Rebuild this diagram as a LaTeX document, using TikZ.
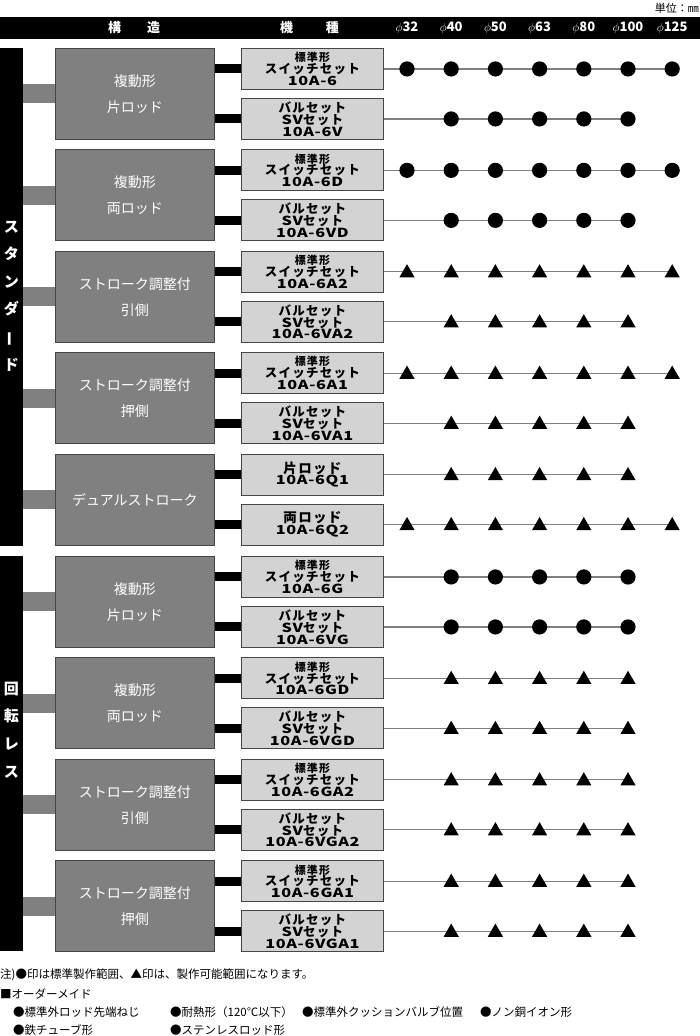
\documentclass[tikz,border=0pt]{standalone}
\usepackage{fontspec}
\setmainfont{Noto Sans CJK JP}
\newfontfamily\wide[FakeStretch=1.3,LetterSpace=5]{Noto Sans CJK JP}
\newfontfamily\kanasp[LetterSpace=10]{Noto Sans CJK JP}
\definecolor{bgray}{RGB}{128,128,128}
\definecolor{lgray}{RGB}{211,211,211}
\definecolor{edge}{RGB}{70,70,70}
\pgfdeclarelayer{bg}
\pgfsetlayers{bg,main}
\newcommand\tightln{\setlength{\lineskiplimit}{-20pt}}
\tikzset{
 bigbox/.style={draw=edge, line width=0.9pt, fill=bgray, minimum width=159pt, minimum height=91pt, inner sep=0pt, text=white, align=center, font=\fontsize{14}{26}\selectfont, anchor=north west},
 smallbox/.style={draw=edge, line width=0.9pt, fill=lgray, minimum width=142pt, minimum height=41pt, inner sep=0pt, align=center, font=\kanasp\fontsize{12.5}{11.8}\selectfont\bfseries\tightln, anchor=north west},
 sidebar/.style={fill=black, minimum width=23pt, inner sep=0pt, anchor=north west},
 sidetxt/.style={text=white, align=center, font=\fontsize{15}{27.6}\selectfont\bfseries\tightln, inner sep=0pt},
 gconn/.style={draw=bgray, line width=19pt},
 bconn/.style={draw=black, line width=9pt},
 mline/.style={draw=bgray, line width=1.3pt},
 markc/.pic={\fill[black] (0,0) circle (7.6pt);},
 markt/.pic={\fill[black] (-7.6,5.6) -- (7.6,5.6) -- (0,-7.6) -- cycle;},
 hdrtxt/.style={text=white, font=\fontsize{13}{13}\selectfont\bfseries, inner sep=0pt},
 note/.style={anchor=west, inner sep=0pt, font=\fontsize{11.5}{12}\selectfont},
}
\newcommand\tA{{\fontsize{11}{11.8}\selectfont 標準形}}
\newcommand\grp[6]{%
 \node[bigbox] (g#1) at (55,#2) {#4};
 \node[smallbox] (g#1a) at (241,#2) {#5};
 \node[smallbox] (g#1b) at (241,#2+50) {#6};
 \begin{pgfonlayer}{bg}
 \draw[gconn] (g#1.west -| #3.east) -- (g#1.west);
 \draw[bconn] (g#1a.west -| g#1.east) -- (g#1a.west);
 \draw[bconn] (g#1b.west -| g#1.east) -- (g#1b.west);
 \end{pgfonlayer}
}
\newcommand\mrow[4]{%
 \coordinate (#1-e) at (#1.east -| col#4);
 \begin{pgfonlayer}{bg}\draw[mline] (#1.east) -- (#1-e);\end{pgfonlayer}
 \foreach \i in {#3,...,#4} {\pic at (#1.east -| col\i) {mark#2};}
}
\begin{document}
\begin{tikzpicture}[x=1pt,y=-1pt]
\useasboundingbox (0,0) rectangle (700,1036);
\foreach \k [evaluate=\k as \xx using 407+44.2*(\k-1)] in {1,...,7} {\coordinate (col\k) at (\xx,0);}
% header
\node[anchor=east, inner sep=0pt, font=\fontsize{11}{11}\selectfont] (unit) at (699,8) {単位：㎜};
\node[fill=black, minimum width=700pt, minimum height=22.5pt, inner sep=0pt, anchor=north west] (hdr) at (0,16.5) {};
\node[hdrtxt] (h1) at (134,27.7) {構\hspace{26pt}造};
\node[hdrtxt] (h2) at (309.5,27.7) {機\hspace{33pt}種};
\foreach \k/\lab in {1/32,2/40,3/50,4/63,5/80,6/100,7/125} {\node[hdrtxt] (p\k) at (col\k |- h1) {$\phi$\lab};}
% sidebars
\node[sidebar, minimum height=497.5pt] (s1) at (0,48) {};
\node[sidebar, minimum height=395pt] (s2) at (0,556) {};
\node[sidetxt] (st1) at (11.5,296) {ス\\タ\\ン\\ダ\\\rotatebox[origin=c]{90}{ー}\\ド};
\node[sidetxt] (st2) at (11.5,730) {回\\転\\レ\\ス};
% groups
\grp{1}{48}{s1}{複動形\\片ロッド}{\tA\\スイッチセット\\{\wide 10A-6}}{バルセット\\{\wide SV}セット\\{\wide 10A-6V}}
\mrow{g1a}{c}{1}{7}\mrow{g1b}{c}{2}{6}
\grp{2}{149.4}{s1}{複動形\\両ロッド}{\tA\\スイッチセット\\{\wide 10A-6D}}{バルセット\\{\wide SV}セット\\{\wide 10A-6VD}}
\mrow{g2a}{c}{1}{7}\mrow{g2b}{c}{2}{6}
\grp{3}{250.8}{s1}{ストローク調整付\\引側}{\tA\\スイッチセット\\{\wide 10A-6A2}}{バルセット\\{\wide SV}セット\\{\wide 10A-6VA2}}
\mrow{g3a}{t}{1}{7}\mrow{g3b}{t}{2}{6}
\grp{4}{352.2}{s1}{ストローク調整付\\押側}{\tA\\スイッチセット\\{\wide 10A-6A1}}{バルセット\\{\wide SV}セット\\{\wide 10A-6VA1}}
\mrow{g4a}{t}{1}{7}\mrow{g4b}{t}{2}{6}
\grp{5}{453.6}{s1}{デュアルストローク}{\fontsize{13.5}{16.5}\selectfont 片ロッド\\{\wide 10A-6Q1}}{\fontsize{13.5}{16.5}\selectfont 両ロッド\\{\wide 10A-6Q2}}
\mrow{g5a}{t}{2}{6}\mrow{g5b}{t}{1}{7}
\grp{6}{556}{s2}{複動形\\片ロッド}{\tA\\スイッチセット\\{\wide 10A-6G}}{バルセット\\{\wide SV}セット\\{\wide 10A-6VG}}
\mrow{g6a}{c}{2}{6}\mrow{g6b}{c}{2}{6}
\grp{7}{657.4}{s2}{複動形\\両ロッド}{\tA\\スイッチセット\\{\wide 10A-6GD}}{バルセット\\{\wide SV}セット\\{\wide 10A-6VGD}}
\mrow{g7a}{t}{2}{6}\mrow{g7b}{t}{2}{6}
\grp{8}{758.8}{s2}{ストローク調整付\\引側}{\tA\\スイッチセット\\{\wide 10A-6GA2}}{バルセット\\{\wide SV}セット\\{\wide 10A-6VGA2}}
\mrow{g8a}{t}{2}{6}\mrow{g8b}{t}{2}{6}
\grp{9}{860.2}{s2}{ストローク調整付\\押側}{\tA\\スイッチセット\\{\wide 10A-6GA1}}{バルセット\\{\wide SV}セット\\{\wide 10A-6VGA1}}
\mrow{g9a}{t}{2}{6}\mrow{g9b}{t}{2}{6}
% notes
\node[note] (n1) at (0,975) {注)●印は標準製作範囲、▲印は、製作可能範囲になります。};
\node[note] (n2) at (0,994) {■オーダーメイド};
\node[note] (n3) at (13,1012) {●標準外ロッド先端ねじ};
\node[note] (n4) at (170,1012) {●耐熱形（120℃以下）};
\node[note] (n5) at (302,1012) {●標準外クッションバルブ位置};
\node[note] (n6) at (480,1012) {●ノン銅イオン形};
\node[note] (n7) at (13,1030) {●鉄チューブ形};
\node[note] (n8) at (170,1030) {●ステンレスロッド形};
\end{tikzpicture}
\end{document}
